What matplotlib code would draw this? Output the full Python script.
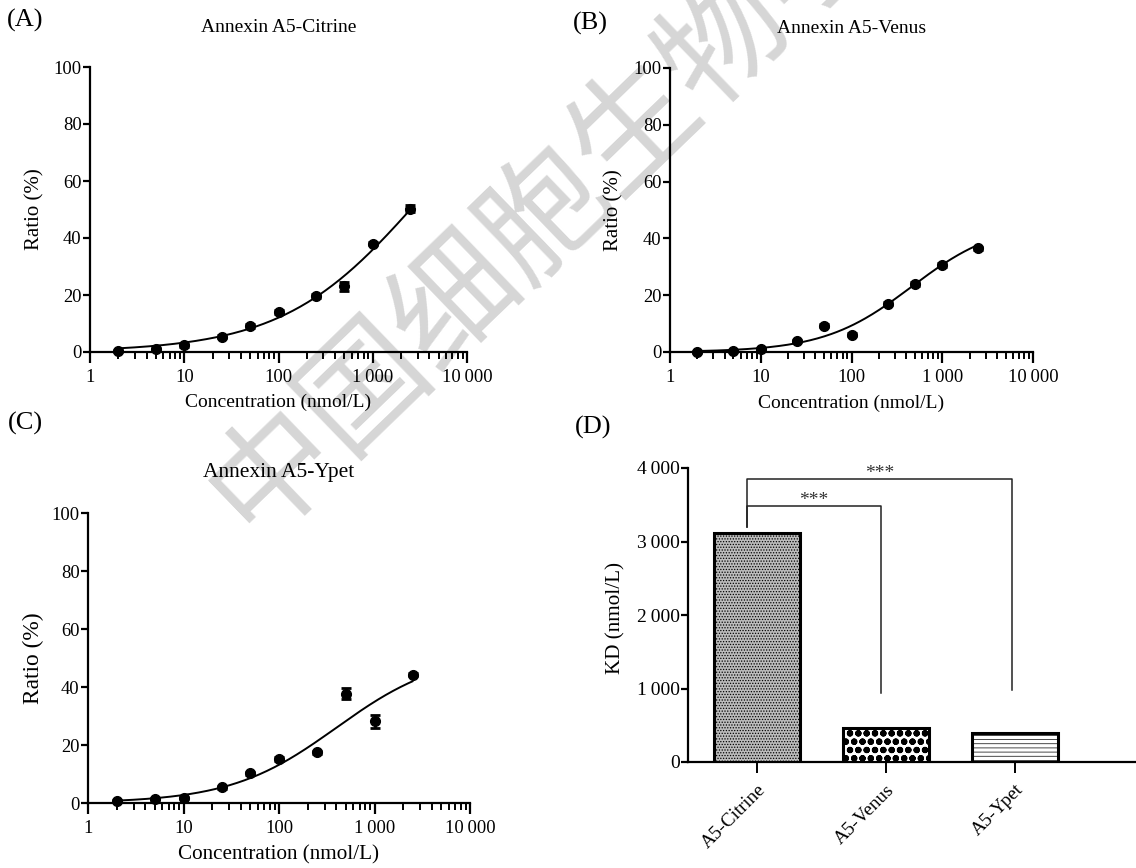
import numpy as np
import matplotlib
matplotlib.use("Agg")
import matplotlib.pyplot as plt
from matplotlib.ticker import FixedLocator, FuncFormatter, LogLocator, NullFormatter

# concentrations (nmol/L) used for all three titrations
conc = [2, 5, 10, 25, 50, 100, 250, 500, 1000, 2500]

citrine_ratio = [0.4, 1.0, 2.3, 5.3, 9.1, 14.0, 19.6, 23.0, 38.0, 50.3]
citrine_err = [0.3, 0.3, 0.4, 0.5, 0.6, 0.8, 0.6, 1.6, 0.6, 1.2]
venus_ratio = [0.0, 0.3, 1.2, 3.9, 9.2, 6.1, 17.0, 24.0, 30.6, 36.5]
venus_err = [0.2, 0.2, 0.3, 0.4, 0.5, 0.5, 0.6, 0.6, 0.6, 0.6]
ypet_ratio = [0.6, 1.4, 1.7, 5.4, 10.3, 15.2, 17.5, 37.7, 28.2, 44.3]
ypet_err = [0.3, 0.3, 0.3, 0.4, 0.5, 0.6, 0.6, 1.8, 2.2, 0.6]

# fitted binding curves (Bmax, K, hill slope)
citrine_fit = (107, 3120, 0.60)
venus_fit = (46, 460, 0.90)
ypet_fit = (52, 400, 0.78)

# panel D
kd_names = ["A5-Citrine", "A5-Venus", "A5-Ypet"]
kd_values = [3120, 460, 400]
kd_hatch = ["......", "oo", "----"]
kd_face = ["#bcbcbc", "white", "white"]
kd_hatch_lw = [0.6, 2.2, 0.5]

plt.rcParams["font.family"] = ["Liberation Serif", "DejaVu Serif"]
plt.rcParams["font.size"] = 13.3

W, H = 1136, 868
fig = plt.figure(figsize=(W / 100, H / 100), dpi=100)


def px_axes(x0, y0, x1, y1):
    return fig.add_axes([x0 / W, 1 - y1 / H, (x1 - x0) / W, (y1 - y0) / H])


def thousands(v, pos=None):
    v = int(round(v))
    if v >= 1000:
        return f"{v // 1000}\u2009{v % 1000:03d}"
    return str(v)


def hill(x, p):
    b, k, h = p
    x = np.asarray(x, float)
    return b * x**h / (k**h + x**h)


# watermark behind everything
fig.text(229 / W, 1 - 514 / H, "中国细胞生物学", fontsize=90, color="#d6d6d6",
         rotation=44, rotation_mode="anchor", ha="left", va="center",
         family=["Noto Sans CJK SC", "DejaVu Sans"], zorder=-1)


def titration(ax, ratio, err, fit, title, title_size, label_size, ylabel_size,
              ylab_x, xlab_y):
    ax.set_facecolor("none")
    ax.set_xscale("log")
    ax.set_xlim(1, 10000)
    ax.set_ylim(0, 100)
    xs = np.logspace(np.log10(conc[0]), np.log10(conc[-1]), 200)
    ax.plot(xs, hill(xs, fit), color="black", lw=1.4, clip_on=False, zorder=3)
    ax.errorbar(conc, ratio, yerr=err, fmt="o", color="black", ms=7,
                capsize=3.5, capthick=2, elinewidth=1.8, clip_on=False, zorder=4)
    for s in ["top", "right"]:
        ax.spines[s].set_visible(False)
    for s in ["left", "bottom"]:
        ax.spines[s].set_linewidth(1.6)
    ax.yaxis.set_major_locator(FixedLocator([0, 20, 40, 60, 80, 100]))
    ax.xaxis.set_major_locator(FixedLocator([1, 10, 100, 1000, 10000]))
    ax.xaxis.set_minor_locator(LogLocator(base=10, subs=np.arange(2, 10)))
    ax.xaxis.set_minor_formatter(NullFormatter())
    ax.xaxis.set_major_formatter(FuncFormatter(thousands))
    ax.tick_params(axis="x", which="major", length=8, width=1.6, pad=4)
    ax.tick_params(axis="x", which="minor", length=5, width=1.4)
    ax.tick_params(axis="y", length=5, width=1.6, pad=1)
    ax.set_xlabel("Concentration (nmol/L)", fontsize=label_size)
    ax.set_ylabel("Ratio (%)", fontsize=ylabel_size)
    ax.xaxis.set_label_coords(0.5, xlab_y)
    ax.yaxis.set_label_coords(ylab_x, 0.5)
    ax.text(0.5, 1.14, title, transform=ax.transAxes, ha="center", va="center",
            fontsize=title_size)


axA = px_axes(90, 67, 467, 352)
titration(axA, citrine_ratio, citrine_err, citrine_fit, "Annexin A5-Citrine",
          14, 14, 15, -0.122, -0.148)
axB = px_axes(670, 68, 1033, 352)
titration(axB, venus_ratio, venus_err, venus_fit, "Annexin A5-Venus",
          14, 14, 15, -0.128, -0.150)
axC = px_axes(88, 513, 470, 803)
titration(axC, ypet_ratio, ypet_err, ypet_fit, "Annexin A5-Ypet",
          15.5, 15.2, 16.8, -0.115, -0.145)

# panel D
axD = px_axes(688, 468, 1136, 762)
axD.set_facecolor("none")
xpos = np.arange(len(kd_names))
for i in range(len(kd_names)):
    with plt.rc_context({"hatch.linewidth": kd_hatch_lw[i]}):
        bars = axD.bar(xpos[i], kd_values[i], width=0.67, color=kd_face[i],
                       edgecolor="black", linewidth=2.2, hatch=kd_hatch[i], zorder=3)
    for b in bars:
        if hasattr(b, "set_hatch_linewidth"):
            b.set_hatch_linewidth(kd_hatch_lw[i])
axD.set_xlim(-0.535, 2.94)
axD.set_ylim(0, 4000)
for s in ["top", "right"]:
    axD.spines[s].set_visible(False)
for s in ["left", "bottom"]:
    axD.spines[s].set_linewidth(1.6)
axD.set_xticks(xpos)
axD.set_xticklabels(kd_names, rotation=45, ha="right", va="top",
                    rotation_mode="anchor", fontsize=13.8)
axD.yaxis.set_major_locator(FixedLocator([0, 1000, 2000, 3000, 4000]))
axD.yaxis.set_major_formatter(FuncFormatter(thousands))
axD.tick_params(axis="x", length=8, width=1.4, pad=6)
axD.tick_params(axis="y", length=5, width=1.6, pad=1, labelsize=14)
axD.set_ylabel("KD (nmol/L)", fontsize=15.2)
axD.yaxis.set_label_coords(-0.14, 0.49)

# significance brackets
brackets = [(-0.08, 0.96, 3480, 3200, 940), (-0.08, 1.98, 3850, 3200, 980)]
for x0, x1, top, left_bottom, right_bottom in brackets:
    axD.plot([x0, x0, x1, x1], [left_bottom, top, top, right_bottom],
             color="#222222", lw=1.1, clip_on=False)
    axD.text((x0 + x1) / 2, top - 40, "***", ha="center", va="bottom",
             fontsize=14, color="#333333", clip_on=False)

# panel letters
for lab, x, y in [("(A)", 25, 20), ("(B)", 590, 23), ("(C)", 25, 423), ("(D)", 593, 427)]:
    fig.text(x / W, 1 - y / H, lab, ha="center", va="center", fontsize=19)

fig.savefig("out.png", dpi=100)
